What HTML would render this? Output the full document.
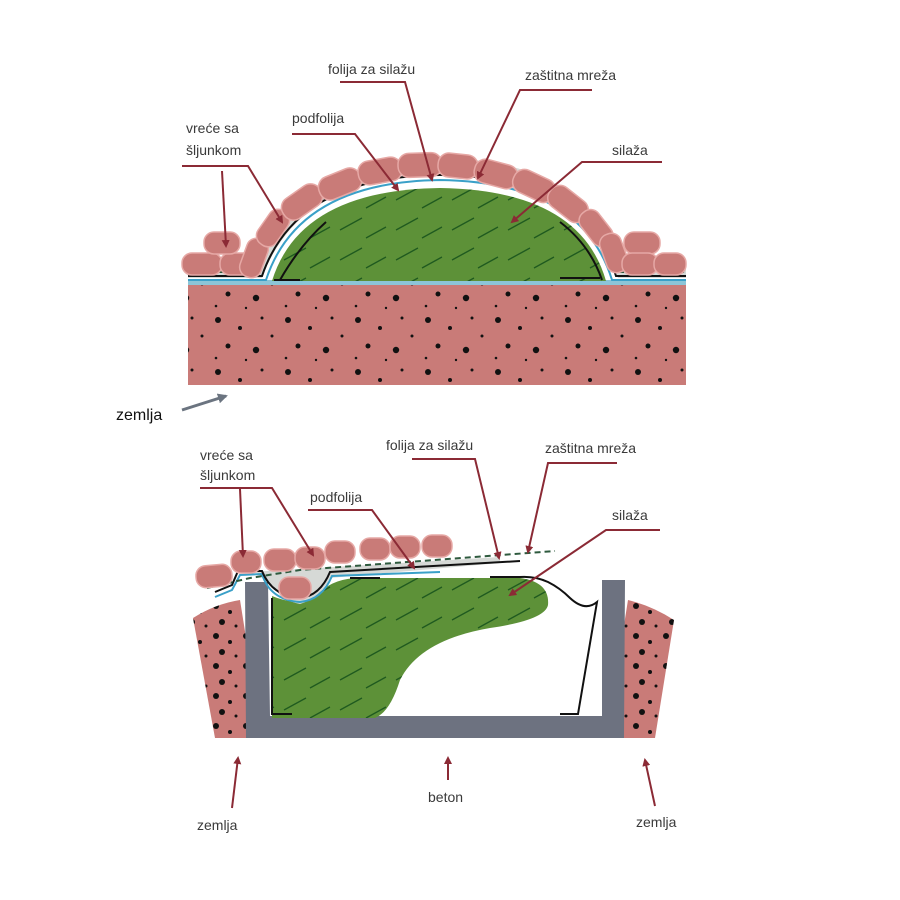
<!DOCTYPE html>
<html><head><meta charset="utf-8"><style>
html,body{margin:0;padding:0;background:#fff}
svg{display:block}
text{font-family:"Liberation Sans",sans-serif;font-size:14px;fill:#3a3a3a}
</style></head><body>
<svg width="900" height="900" viewBox="0 0 900 900" xmlns="http://www.w3.org/2000/svg">
<defs>
<marker id="ar" markerWidth="8" markerHeight="8" refX="6" refY="4" orient="auto" markerUnits="userSpaceOnUse">
<path d="M0,0 L8,4 L0,8 z" fill="#8b2a35"/></marker>
<marker id="ag" markerWidth="10" markerHeight="10" refX="8" refY="5" orient="auto" markerUnits="userSpaceOnUse">
<path d="M0,0 L10,5 L0,10 z" fill="#6b7480"/></marker>
<pattern id="dots" width="70" height="52" patternUnits="userSpaceOnUse">
<circle cx="8" cy="8" r="3" fill="#111"/><circle cx="30" cy="16" r="2" fill="#111"/><circle cx="52" cy="6" r="1.5" fill="#111"/>
<circle cx="18" cy="34" r="2.5" fill="#111"/><circle cx="46" cy="38" r="3.2" fill="#111"/><circle cx="62" cy="24" r="1.5" fill="#111"/><circle cx="6" cy="46" r="1.3" fill="#111"/><circle cx="36" cy="48" r="1.2" fill="#111"/>
</pattern>
<pattern id="dots2" width="30" height="30" patternUnits="userSpaceOnUse">
<circle cx="6" cy="6" r="3" fill="#111"/><circle cx="20" cy="12" r="2" fill="#111"/><circle cx="12" cy="22" r="3" fill="#111"/><circle cx="26" cy="26" r="1.5" fill="#111"/>
</pattern>
<pattern id="grass" width="56" height="30" patternUnits="userSpaceOnUse">
<path d="M4,20 L26,8 M30,28 L50,17" stroke="#1f5a1f" stroke-width="1.3"/></pattern>
</defs>

<!-- TOP DIAGRAM -->
<rect x="188" y="285" width="498" height="100" fill="#c97b78"/>
<rect x="188" y="285" width="498" height="100" fill="url(#dots)"/>
<rect x="188" y="280" width="498" height="5" fill="#8cc5d8"/>
<path d="M188,278 L262,278 Q300,175 440,172 Q580,175 618,278 L686,278 L686,268 L620,268 Q590,160 440,158 Q290,160 258,268 L188,268 Z" fill="#d6d9d6"/>
<path d="M272,281 Q300,190 440,188 Q580,190 606,281 Z" fill="#5d9138"/>
<path d="M272,281 Q300,190 440,188 Q580,190 606,281 Z" fill="url(#grass)"/>
<path d="M188,280 L266,280 Q298,182 440,180 Q582,182 612,280 L686,280" fill="none" stroke="#3aa0c8" stroke-width="2"/>
<path d="M188,276 L262,276 Q296,176 440,175 Q584,176 616,276 L686,276" fill="none" stroke="#111" stroke-width="2"/>
<path d="M188,272 L258,272 Q292,168 440,166 Q588,168 620,272 L686,272" fill="none" stroke="#2e5a3e" stroke-width="2" stroke-dasharray="6,4"/>
<path d="M274,280 L300,280 M326,222 Q300,245 280,280 M560,278 L600,278 M560,222 Q590,245 602,280" fill="none" stroke="#111" stroke-width="2"/>
<g fill="#c97b78" stroke="#e6a8a5" stroke-width="1.5">
<rect x="-20" y="-11" width="40" height="22" rx="10" transform="translate(202,264)"/>
<rect x="-18" y="-11" width="36" height="22" rx="10" transform="translate(238,264)"/>
<rect x="-18" y="-11" width="36" height="22" rx="10" transform="translate(222,243)"/>
<rect x="-20" y="-11" width="40" height="22" rx="10" transform="translate(254,258) rotate(-70)"/>
<rect x="-20" y="-11" width="40" height="22" rx="10" transform="translate(273,228) rotate(-55)"/>
<rect x="-22" y="-12" width="44" height="24" rx="11" transform="translate(302,202) rotate(-35)"/>
<rect x="-22" y="-12" width="44" height="24" rx="11" transform="translate(340,184) rotate(-22)"/>
<rect x="-22" y="-12" width="44" height="24" rx="11" transform="translate(380,171) rotate(-10)"/>
<rect x="-22" y="-12" width="44" height="24" rx="11" transform="translate(420,165) rotate(-2)"/>
<rect x="-20" y="-12" width="40" height="24" rx="11" transform="translate(458,166) rotate(6)"/>
<rect x="-22" y="-12" width="44" height="24" rx="11" transform="translate(496,174) rotate(15)"/>
<rect x="-22" y="-12" width="44" height="24" rx="11" transform="translate(534,186) rotate(25)"/>
<rect x="-22" y="-12" width="44" height="24" rx="11" transform="translate(568,204) rotate(38)"/>
<rect x="-20" y="-11" width="40" height="22" rx="10" transform="translate(596,228) rotate(52)"/>
<rect x="-20" y="-11" width="40" height="22" rx="10" transform="translate(614,253) rotate(70)"/>
<rect x="-18" y="-11" width="36" height="22" rx="10" transform="translate(642,243)"/>
<rect x="-18" y="-11" width="36" height="22" rx="10" transform="translate(640,264)"/>
<rect x="-16" y="-11" width="32" height="22" rx="10" transform="translate(670,264)"/>
</g>
<text x="328" y="74">folija za silažu</text>
<text x="525" y="80">zaštitna mreža</text>
<text x="292" y="123">podfolija</text>
<text x="186" y="133">vreće sa</text>
<text x="186" y="155">šljunkom</text>
<text x="612" y="155">silaža</text>
<g stroke="#8b2a35" stroke-width="2" fill="none">
<path d="M340,82 L405,82 L432,180" marker-end="url(#ar)"/>
<path d="M592,90 L520,90 L478,178" marker-end="url(#ar)"/>
<path d="M292,134 L355,134 L398,190" marker-end="url(#ar)"/>
<path d="M182,166 L248,166 L282,222" marker-end="url(#ar)"/>
<path d="M222,171 L226,246" marker-end="url(#ar)"/>
<path d="M662,162 L582,162 L512,222" marker-end="url(#ar)"/>
</g>
<text x="116" y="420" style="font-size:16px;fill:#111">zemlja</text>
<path d="M182,410 L226,396" stroke="#6b7480" stroke-width="3" marker-end="url(#ag)"/>

<!-- BOTTOM DIAGRAM -->
<path d="M193,618 Q215,604 240,600 L262,738 L215,738 Z" fill="#c97b78"/>
<path d="M193,618 Q215,604 240,600 L262,738 L215,738 Z" fill="url(#dots2)"/>
<path d="M628,600 Q652,606 674,620 L655,738 L606,738 Z" fill="#c97b78"/>
<path d="M628,600 Q652,606 674,620 L655,738 L606,738 Z" fill="url(#dots2)"/>
<path d="M245,582 L268,582 L270,716 L602,716 L602,580 L625,580 L624,738 L246,738 Z" fill="#6d7280"/>
<path d="M272,596 Q300,608 320,592 Q335,578 360,578 L520,578 Q550,582 548,605 Q545,620 490,628 Q420,640 400,680 Q390,712 375,718 L272,718 Z" fill="#5d9138"/>
<path d="M272,596 Q300,608 320,592 Q335,578 360,578 L520,578 Q550,582 548,605 Q545,620 490,628 Q420,640 400,680 Q390,712 375,718 L272,718 Z" fill="url(#grass)"/>
<path d="M272,598 L272,714 L292,714 M560,714 L578,714 L597,602 Q585,612 570,598 Q560,588 548,582 Q535,576 520,577 L490,577 M380,578 L350,578" fill="none" stroke="#111" stroke-width="2"/>
<path d="M250,572 L500,557 L500,563 L330,578 Q320,598 300,604 Q280,600 275,588 L262,574 Z" fill="#d6d9d6"/>
<path d="M215,597 L232,590 L240,575 L262,574 Q270,600 300,602 Q322,600 332,576 L440,572" fill="none" stroke="#3aa0c8" stroke-width="2"/>
<path d="M215,592 L232,585 L238,571 L262,571 Q272,596 300,598 Q320,596 330,572 L520,561" fill="none" stroke="#111" stroke-width="2"/>
<path d="M207,588 L250,578 L300,570 L555,551" fill="none" stroke="#2e5a3e" stroke-width="2" stroke-dasharray="6,4"/>
<g fill="#c97b78" stroke="#e6a8a5" stroke-width="1.5">
<rect x="-18" y="-11" width="36" height="22" rx="10" transform="translate(214,576) rotate(-5)"/>
<rect x="-15" y="-11" width="30" height="22" rx="10" transform="translate(246,562)"/>
<rect x="-16" y="-11" width="32" height="22" rx="10" transform="translate(280,560)"/>
<rect x="-15" y="-11" width="30" height="22" rx="10" transform="translate(310,558)"/>
<rect x="-15" y="-11" width="30" height="22" rx="10" transform="translate(340,552)"/>
<rect x="-15" y="-11" width="30" height="22" rx="10" transform="translate(375,549)"/>
<rect x="-15" y="-11" width="30" height="22" rx="10" transform="translate(405,547)"/>
<rect x="-15" y="-11" width="30" height="22" rx="10" transform="translate(437,546)"/>
<rect x="-16" y="-11" width="32" height="22" rx="10" transform="translate(295,588)"/>
</g>
<text x="200" y="460">vreće sa</text>
<text x="200" y="480">šljunkom</text>
<text x="310" y="502">podfolija</text>
<text x="386" y="450">folija za silažu</text>
<text x="545" y="453">zaštitna mreža</text>
<text x="612" y="520">silaža</text>
<text x="197" y="830">zemlja</text>
<text x="428" y="802">beton</text>
<text x="636" y="827">zemlja</text>
<g stroke="#8b2a35" stroke-width="2" fill="none">
<path d="M200,488 L272,488 L313,555" marker-end="url(#ar)"/>
<path d="M240,489 L243,556" marker-end="url(#ar)"/>
<path d="M308,510 L372,510 L414,568" marker-end="url(#ar)"/>
<path d="M412,459 L475,459 L499,558" marker-end="url(#ar)"/>
<path d="M617,463 L548,463 L528,552" marker-end="url(#ar)"/>
<path d="M660,530 L606,530 L510,595" marker-end="url(#ar)"/>
<path d="M232,808 L238,758" marker-end="url(#ar)"/>
<path d="M448,780 L448,758" marker-end="url(#ar)"/>
<path d="M655,806 L645,760" marker-end="url(#ar)"/>
</g>
</svg>
</body></html>
